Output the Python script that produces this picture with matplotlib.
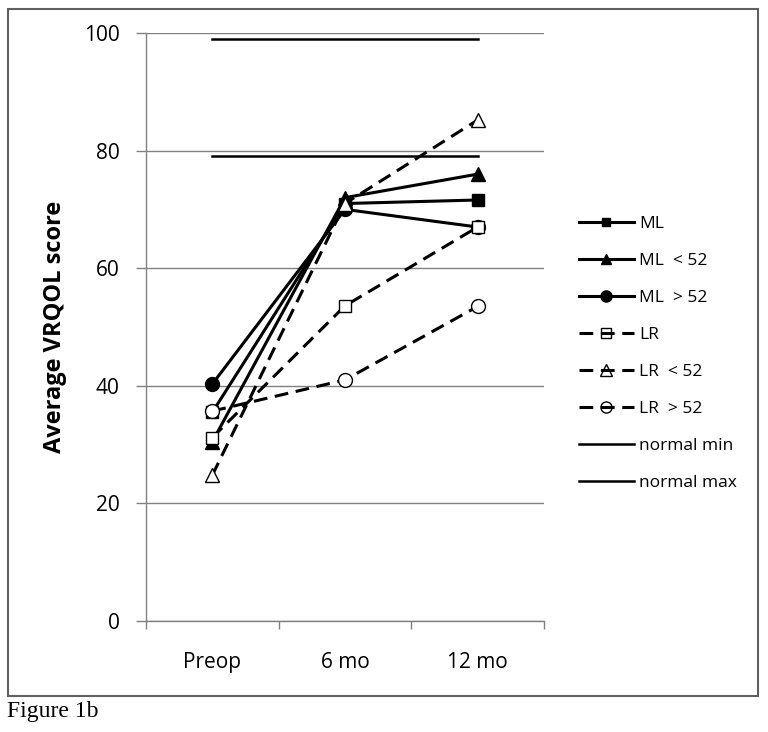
import matplotlib.pyplot as plt
from matplotlib.patches import Rectangle

# data
categories = ['Preop', '6 mo', '12 mo']
ml = [35.5, 71.0, 71.6]
ml_lt52 = [30.5, 72.0, 76.0]
ml_gt52 = [40.3, 70.0, 67.0]
lr = [31.2, 53.6, 67.0]
lr_lt52 = [24.8, 71.0, 85.2]
lr_gt52 = [35.7, 41.0, 53.5]
normal_min = [79.0, 79.0, 79.0]
normal_max = [98.9, 98.9, 98.9]

plt.rcParams['font.family'] = ['Open Sans', 'DejaVu Sans']

fig = plt.figure(figsize=(7.68, 7.32), dpi=100)
ax = fig.add_axes([146 / 768, 1 - 621 / 732, 398 / 768, 588 / 732])

x = list(range(len(categories)))
dash = (0, (4.5, 2.5))

series = [
    (ml, 'ML', '-', 's', 'black', 8),
    (ml_lt52, 'ML  < 52', '-', '^', 'black', 9.5),
    (ml_gt52, 'ML  > 52', '-', 'o', 'black', 10),
    (lr, 'LR', dash, 's', 'white', 9),
    (lr_lt52, 'LR  < 52', dash, '^', 'white', 10),
    (lr_gt52, 'LR  > 52', dash, 'o', 'white', 10),
]
for vals, lab, ls, mk, fc, ms in series:
    ax.plot(x, vals, linestyle=ls, color='black', lw=2.2, marker=mk,
            markersize=ms, markerfacecolor=fc, markeredgecolor='black',
            markeredgewidth=1.0, label=lab, zorder=3)

ax.plot(x, normal_min, color='black', lw=1.8, label='normal min', zorder=2)
ax.plot(x, normal_max, color='black', lw=1.8, label='normal max', zorder=2)

ax.set_xlim(-0.5, 2.5)
ax.set_ylim(0, 100)
ax.set_yticks([0, 20, 40, 60, 80, 100])
ax.set_xticks(x)
ax.set_xticklabels(categories)
ax.set_xticks([-0.5, 0.5, 1.5, 2.5], minor=True)
ax.tick_params(axis='x', which='major', length=0, pad=22, labelsize=15)
ax.tick_params(axis='x', which='minor', length=6, color='#808080', width=1)
ax.tick_params(axis='y', length=7, color='#808080', width=1, labelsize=15, pad=12)
ax.yaxis.grid(True, color='#808080', lw=1)
ax.set_axisbelow(True)
for s in ['top', 'right']:
    ax.spines[s].set_visible(False)
for s in ['left', 'bottom']:
    ax.spines[s].set_color('#808080')
    ax.spines[s].set_linewidth(1)

ax.set_ylabel('Average VRQOL score', fontsize=17, fontweight='bold', labelpad=12)

leg = ax.legend(loc='upper left', bbox_to_anchor=(1.048, 0.716), frameon=False,
                fontsize=12.5, handlelength=3.17, labelspacing=1.2,
                handletextpad=0.3, markerscale=0.8)
# open markers in the legend show the line running through them
for h in leg.legend_handles:
    if h.get_markerfacecolor() == 'white':
        h.set_markerfacecolor('none')

# outer frame like the source figure
fig.patches.append(Rectangle((8 / 768, 1 - 696 / 732), 750 / 768, 687 / 732,
                             transform=fig.transFigure, fill=False,
                             edgecolor='#606060', lw=1.5))
fig.text(7 / 768, 1 - 712 / 732, 'Figure 1b', family=['Liberation Serif', 'DejaVu Serif'],
         fontsize=17, va='center', ha='left')

fig.savefig('out.png', dpi=100)
